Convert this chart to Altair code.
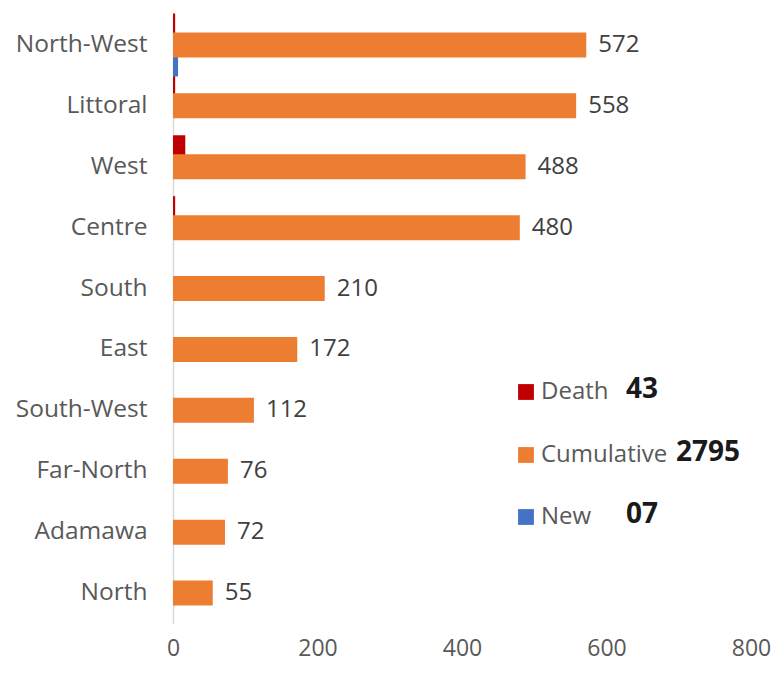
import altair as alt
import pandas as pd

regions = ["North-West", "Littoral", "West", "Centre", "South", "East",
           "South-West", "Far-North", "Adamawa", "North"]
cumulative = [572, 558, 488, 480, 210, 172, 112, 76, 72, 55]
death = [3, 3, 17, 3, 0, 0, 0, 0, 0, 0]
new = [7, 0, 0, 0, 0, 0, 0, 0, 0, 0]
x_ticks = [0, 200, 400, 600, 800]

legend_names = ["Death", "Cumulative", "New"]
legend_totals = ["43", "2795", "07"]
colors = ["#C00000", "#ED7D31", "#4472C4"]

FONT = "Open Sans"
W, H = 578, 609

df = pd.DataFrame({"region": regions, "cumulative": cumulative,
                   "death": death, "new": new})

y_enc = alt.Y("region:N", sort=regions, title=None,
              scale=alt.Scale(paddingInner=0, paddingOuter=0),
              axis=alt.Axis(domain=True, domainColor="#d9d9d9", domainWidth=1.5,
                            ticks=False, labelFontSize=24.5, labelColor="#595959",
                            labelFont=FONT, labelPadding=26, grid=False))
x_scale = alt.Scale(domain=[0, 800], nice=False)
x_axis = alt.Axis(values=x_ticks, domain=False, ticks=False, grid=False,
                  labelFontSize=23, labelColor="#595959", labelFont=FONT,
                  labelPadding=14, labelFlush=False)

base = alt.Chart(df)

death_bars = base.mark_bar(height=25, yOffset=-19, color=colors[0]).encode(
    x=alt.X("death:Q", scale=x_scale, axis=x_axis, title=None), y=y_enc)
new_bars = base.mark_bar(height=25, yOffset=19, color=colors[2]).encode(
    x=alt.X("new:Q", scale=x_scale, axis=x_axis, title=None), y=y_enc)
cum_bars = base.mark_bar(height=25, color=colors[1]).encode(
    x=alt.X("cumulative:Q", scale=x_scale, axis=x_axis, title=None), y=y_enc)
labels = base.mark_text(align="left", baseline="middle", dx=12, fontSize=24,
                        font=FONT, color="#404040").encode(
    x=alt.X("cumulative:Q", scale=x_scale, axis=x_axis, title=None), y=y_enc,
    text="cumulative:Q")

layers = [death_bars, new_bars, cum_bars, labels]

# custom legend (page coords -> view coords)
ox, oy = 173, 14.5
leg_rows_y = [392, 455, 517]
total_x = [626, 676, 626]
for i, name in enumerate(legend_names):
    one = pd.DataFrame({"name": [name], "total": [legend_totals[i]]})
    lc = alt.Chart(one)
    layers.append(lc.mark_square(size=250, color=colors[i], opacity=1).encode(
        x=alt.value(526 - ox), y=alt.value(leg_rows_y[i] - oy)))
    layers.append(lc.mark_text(align="left", baseline="middle", fontSize=24,
                               font=FONT, color="#595959").encode(
        x=alt.value(541 - ox), y=alt.value(leg_rows_y[i] - oy), text="name:N"))
    layers.append(lc.mark_text(align="left", baseline="middle", fontSize=28,
                               font=FONT, fontWeight="bold", color="#1a1a1a").encode(
        x=alt.value(total_x[i] - ox), y=alt.value(leg_rows_y[i] - 2 - oy), text="total:N"))

chart = alt.layer(*layers).properties(
    width=W, height=H, autosize="none",
    padding={"left": 165, "top": 6.5, "right": 20, "bottom": 43}
).configure_view(stroke=None)

chart.save("out.html", embed_options={"renderer": "svg", "actions": False})
